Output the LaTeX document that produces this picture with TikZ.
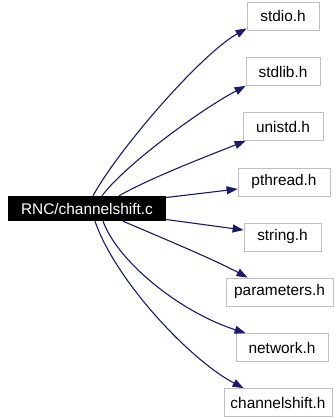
\documentclass[tikz,border=0pt]{standalone}
\usepackage{fontspec}
\setmainfont{Liberation Sans}
\usetikzlibrary{arrows.meta}
\definecolor{edgeblue}{HTML}{191970}
\definecolor{boxgray}{HTML}{BFBFBF}
\begin{document}
\begin{tikzpicture}[x=1pt,y=-1pt,
  hdr/.style={draw=boxgray, line width=0.8pt, fill=white, minimum height=28pt,
              inner sep=0pt, font=\fontsize{15.4}{18}\selectfont},
  src/.style={fill=black, text=white, minimum height=25pt, minimum width=158pt,
              inner sep=0pt, font=\fontsize{15.4}{18}\selectfont},
  dep/.style={draw=edgeblue, line width=1.1pt, -{Triangle[length=11pt,width=8pt]}}]
\useasboundingbox (0,0) rectangle (335,419);

% source file
\node[src] (main) at (87,208.5) {RNC/channelshift.c};

% included headers
\node[hdr, minimum width=72pt]  (stdio)   at (283,16)    {stdio.h};
\node[hdr, minimum width=74pt]  (stdlib)  at (283,71.5)  {stdlib.h};
\node[hdr, minimum width=80pt]  (unistd)  at (283,126.5) {unistd.h};
\node[hdr, minimum width=92pt]  (pthread) at (284,182)   {pthread.h};
\node[hdr, minimum width=77pt]  (string)  at (282.5,237) {string.h};
\node[hdr, minimum width=107pt] (params)  at (279.5,292) {parameters.h};
\node[hdr, minimum width=92pt]  (network) at (282,347.5) {network.h};
\node[hdr, minimum width=108pt] (chshift) at (278,402.5) {channelshift.h};

% include edges
\draw[dep] ([xshift=6pt]main.north)  .. controls (118,150) and (200,55)  .. ([yshift=2pt]stdio.south west);
\draw[dep] ([xshift=15pt]main.north) .. controls (125,165) and (200,110) .. (stdlib.south west);
\draw[dep] ([xshift=32pt]main.north) .. controls (150,178) and (210,155) .. ([xshift=3pt]unistd.south west);
\draw[dep] ([yshift=11pt]main.east)  -- ([yshift=-7pt]pthread.west);
\draw[dep] ([yshift=-11pt]main.east) -- ([yshift=7pt]string.west);
\draw[dep] ([xshift=36pt]main.south) .. controls (160,237) and (215,260) .. ([xshift=22pt]params.north west);
\draw[dep] ([xshift=16pt]main.south) .. controls (118,262) and (180,312) .. ([xshift=10pt]network.north west);
\draw[dep] ([xshift=8pt]main.south)  .. controls (115,280) and (190,360) .. ([xshift=20pt]chshift.north west);
\end{tikzpicture}
\end{document}
